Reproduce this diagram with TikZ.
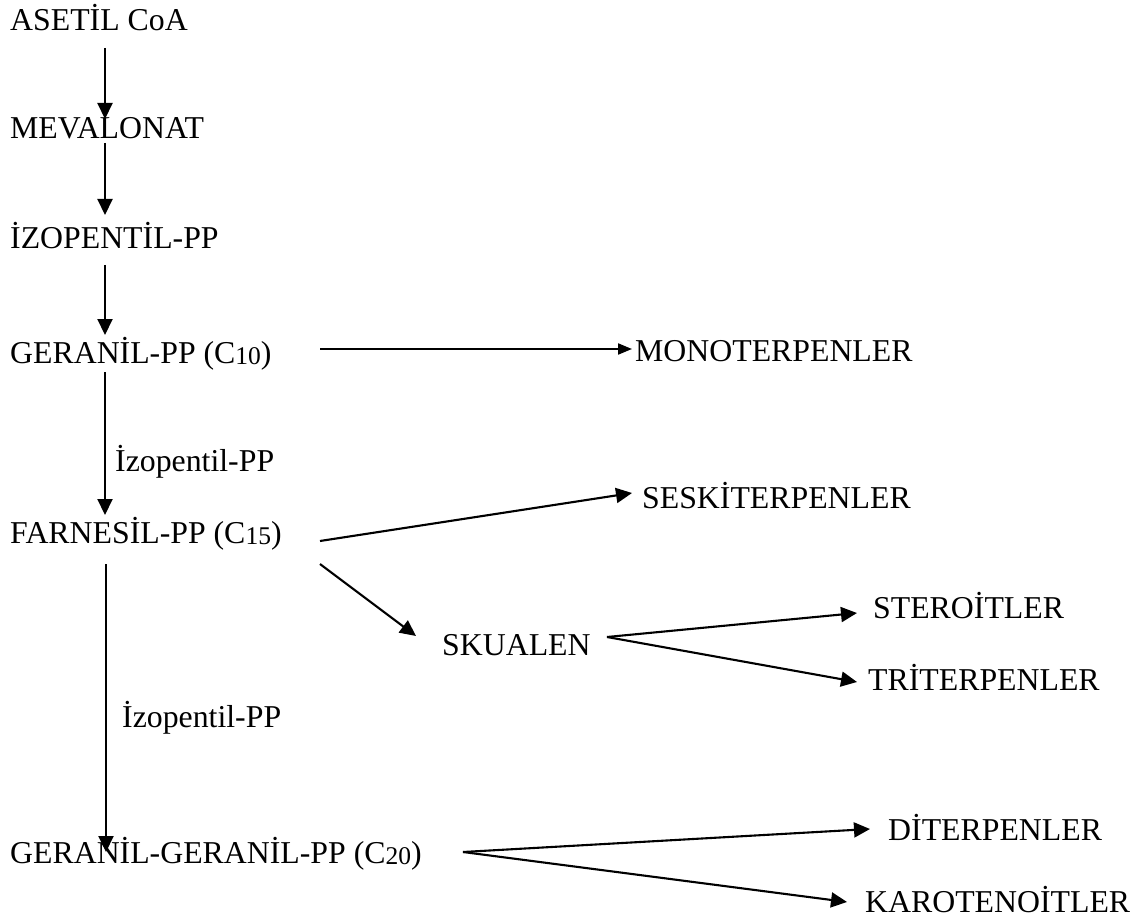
\documentclass[tikz,border=0pt]{standalone}
\usepackage{fontspec}
\setmainfont{Liberation Serif}
\usetikzlibrary{arrows.meta,calc}
% carbon count written after a compound name
\newcommand\cnum[1]{\raisebox{-1pt}{\fontsize{25.5}{25.5}\selectfont #1}}
\begin{document}
\begin{tikzpicture}[x=1pt,y=-1pt,
  lbl/.style={anchor=base west, inner sep=0pt, font=\fontsize{31.8}{38}\selectfont},
  arr/.style={line width=2.1pt, -{Triangle[length=16pt,width=15pt]}},
  arrs/.style={line width=2.1pt, -{Triangle[length=14pt,width=11pt]}}]
\useasboundingbox (0,0) rectangle (1141,920);

% main chain
\node[lbl] (asetil)    at (10,31)  {ASETİL CoA};
\node[lbl] (mevalonat) at (10,139) {MEVALONAT};
\node[lbl] (izopent)   at (10,249) {İZOPENTİL-PP};
\node[lbl] (geranil)   at (10,363) {GERANİL-PP (C\cnum{10})};
\node[lbl] (farnesil)  at (10,543) {FARNESİL-PP (C\cnum{15})};
\node[lbl] (ggpp)      at (10,863) {GERANİL-GERANİL-PP (C\cnum{20})};

% step labels
\node[lbl] (ipp1) at (115,471) {İzopentil-PP};
\node[lbl] (ipp2) at (122,727) {İzopentil-PP};

% products
\node[lbl] (mono)    at (635,361) {MONOTERPENLER};
\node[lbl] (sesk)    at (642,508) {SESKİTERPENLER};
\node[lbl] (skualen) at (442,655) {SKUALEN};
\node[lbl] (steroit) at (873,618) {STEROİTLER};
\node[lbl] (triterp) at (868,690) {TRİTERPENLER};
\node[lbl] (diterp)  at (888,840) {DİTERPENLER};
\node[lbl] (karot)   at (865,912) {KAROTENOİTLER};

% vertical chain arrows
\draw[arr] ($(asetil.base west)+(95,17)$)    -- ($(mevalonat.base west)+(95,-20)$);
\draw[arr] ($(mevalonat.base west)+(95,4)$)  -- ($(izopent.base west)+(95,-34)$);
\draw[arr] ($(izopent.base west)+(95,16)$)   -- ($(geranil.base west)+(95,-28)$);
\draw[arr] ($(geranil.base west)+(95,9)$)    -- ($(farnesil.base west)+(95,-28)$);
\draw[arr] ($(farnesil.base west)+(96,21)$)  -- ($(ggpp.base west)+(96,-11)$);

% branches
\draw[arrs] ($(geranil.base west)+(310,-14)$) -- ($(mono.base west)+(-3,-12)$);
\draw[arr] ($(farnesil.base west)+(310,-2)$)  -- ($(sesk.base west)+(-10,-15)$);
\draw[arr] ($(farnesil.base west)+(310,21)$)  -- ($(skualen.base west)+(-26,-19)$);
\draw[arr] ($(skualen.base west)+(165,-18)$)  -- ($(steroit.base west)+(-16,-5)$);
\draw[arr] ($(skualen.base west)+(165,-18)$)  -- ($(triterp.base west)+(-11,-8)$);
\draw[arr] ($(ggpp.base west)+(453,-11)$)     -- ($(diterp.base west)+(-18,-11)$);
\draw[arr] ($(ggpp.base west)+(453,-11)$)     -- ($(karot.base west)+(-18,-10)$);
\end{tikzpicture}
\end{document}
